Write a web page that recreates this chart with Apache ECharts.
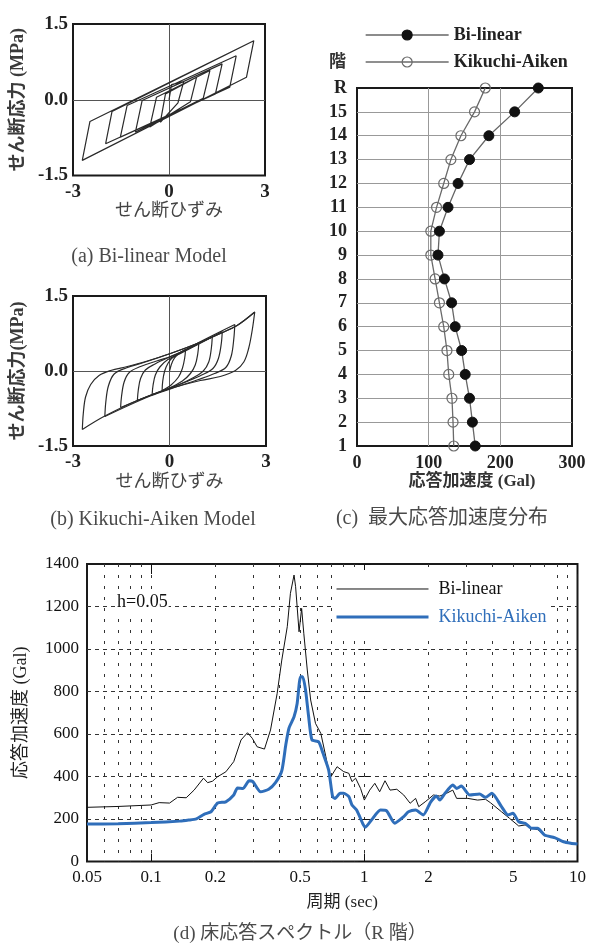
<!DOCTYPE html>
<html><head><meta charset="utf-8">
<script src="https://cdn.jsdelivr.net/npm/echarts@6/dist/echarts.min.js"></script>
<style>html,body{margin:0;padding:0;background:#fff}#c{width:589px;height:949px}</style>
</head><body><div id="c"></div>
<script>
const SERIF = "'Liberation Serif','Times New Roman','Noto Sans CJK JP',serif";

// ---------- (a) Bi-linear hysteresis: strain / stress vertices ----------
const blStrain = [0, 0.08, 0.46, 0.28, -0.27, -0.11, 0.86, 0.67, -0.60, -0.39, 1.28, 1.07, -1.05, -0.84, 1.66, 1.45, -1.52, -1.31, 2.10, 1.90, -1.98, -1.78, 2.65, 2.42, -2.71, -2.47, 2.65];
const blStress = [0, 0.30, 0.36, -0.06, -0.445, 0.115, 0.445, -0.04, -0.54, 0.05, 0.58, 0.03, -0.64, -0.016, 0.71, 0.115, -0.74, -0.115, 0.87, 0.25, -0.87, -0.23, 1.17, 0.445, -1.20, -0.43, 1.17];

// ---------- (b) Kikuchi-Aiken hysteresis branches [strain, stress] ----------
const kaStart = [[0,0],[0.1,0.2],[0.25,0.33],[0.50,0.43]];
const kaUnload = [
  [[2.65,1.18],[2.57,0.81],[2.46,0.45],[2.31,0.18],[2.05,0.01],[1.58,-0.11],[0.96,-0.19],[0.03,-0.35],[-1.0,-0.59],[-2.04,-0.91],[-2.71,-1.17]],
  [[2.03,0.93],[2.0,0.65],[1.92,0.3],[1.75,0.07],[1.4,-0.05],[0.9,-0.17],[0.3,-0.3],[-0.6,-0.5],[-2.01,-0.91]],
  [[1.64,0.79],[1.61,0.55],[1.52,0.25],[1.35,0.05],[1.0,-0.08],[0.5,-0.22],[0.0,-0.35],[-0.8,-0.54],[-1.52,-0.73]],
  [[1.33,0.68],[1.30,0.45],[1.22,0.18],[1.05,0.0],[0.75,-0.13],[0.3,-0.27],[-0.3,-0.41],[-1.0,-0.59]],
  [[0.91,0.55],[0.88,0.35],[0.80,0.12],[0.65,-0.05],[0.40,-0.2],[0.0,-0.34],[-0.54,-0.47]],
  [[0.50,0.43],[0.47,0.25],[0.40,0.05],[0.28,-0.12],[0.05,-0.28],[-0.23,-0.39]]
];
const kaReload = [
  [[-2.71,-1.17],[-2.68,-0.85],[-2.61,-0.52],[-2.45,-0.27],[-2.19,-0.09],[-1.83,0.01],[-1.31,0.09],[-0.69,0.2],[0.03,0.35],[0.86,0.55],[1.58,0.75],[2.10,0.91],[2.65,1.18]],
  [[-2.01,-0.91],[-1.98,-0.62],[-1.9,-0.3],[-1.72,-0.06],[-1.35,0.06],[-0.8,0.17],[0.03,0.35],[0.86,0.55],[1.58,0.75],[2.10,0.91],[2.65,1.18]],
  [[-1.52,-0.73],[-1.49,-0.5],[-1.41,-0.22],[-1.25,-0.03],[-0.9,0.09],[-0.4,0.2],[0.2,0.33],[1.0,0.6],[2.03,0.93]],
  [[-1.0,-0.59],[-0.97,-0.38],[-0.9,-0.15],[-0.75,0.02],[-0.45,0.14],[0.0,0.28],[0.6,0.45],[1.64,0.79]],
  [[-0.54,-0.47],[-0.51,-0.28],[-0.44,-0.08],[-0.3,0.08],[-0.05,0.23],[0.4,0.37],[1.33,0.68]],
  [[-0.23,-0.39],[-0.21,-0.2],[-0.15,0.0],[-0.05,0.15],[0.1,0.27],[0.91,0.55]]
];

// ---------- (c) max response acceleration by floor ----------
const floors = [1,2,3,4,5,6,7,8,9,10,11,12,13,14,15,16]; // 16 = R
const floorLabels = ['1','2','3','4','5','6','7','8','9','10','11','12','13','14','15','R'];
const maxAccBL = [165,161,157,151,146,137,132,122,113,115,127,141,157,184,220,253];
const maxAccKA = [135,134,132.5,128,125.5,121,115,109,103,103,111,121,131,145,164,179];
const accTicks = [0,100,200,300];

// ---------- (d) floor response spectrum (R floor) ----------
const periodBL = [0.05,0.07,0.1,0.109,0.122,0.133,0.146,0.159,0.176,0.184,0.194,0.205,0.224,0.244,0.264,0.283,0.298,0.314,0.34,0.363,0.39,0.41,0.435,0.45,0.468,0.476,0.494,0.508,0.52,0.54,0.56,0.59,0.625,0.66,0.69,0.745,0.80,0.846,0.875,0.91,0.96,1.0,1.06,1.12,1.18,1.25,1.32,1.42,1.53,1.64,1.74,1.80,1.93,2.11,2.26,2.43,2.6,2.71,3.06,3.4,3.7,3.9,4.4,4.8,5.3,5.68,6.1,6.5,7.0,7.8,8.6,9.3,10];
const accBL = [255,259,266,277,275,302,300,336,392,371,378,399,422,470,572,606,580,540,529,619,791,948,1105,1262,1348,1293,1081,1191,1074,901,760,650,603,493,392,446,423,415,376,392,344,289,336,368,328,380,336,340,313,274,297,258,281,313,308,321,336,297,297,289,293,277,234,203,167,172,156,150,125,110,92,86,82];
const periodKA = [0.05,0.07,0.1,0.136,0.15,0.163,0.177,0.191,0.205,0.224,0.244,0.254,0.27,0.288,0.30,0.326,0.356,0.383,0.41,0.428,0.443,0.468,0.484,0.502,0.514,0.53,0.548,0.568,0.61,0.64,0.68,0.71,0.73,0.77,0.80,0.846,0.875,0.92,0.99,1.01,1.08,1.19,1.27,1.39,1.53,1.61,1.74,1.89,2.05,2.18,2.26,2.39,2.6,2.71,2.85,3.12,3.47,3.7,3.97,4.4,4.72,4.98,5.3,5.68,6.1,6.5,7.0,7.8,8.6,9.3,10];
const accKA = [176,178,183,190,195,201,222,234,275,281,313,346,344,380,376,328,340,371,427,548,627,681,744,870,870,807,681,572,564,509,431,305,297,321,321,305,266,242,172,161,195,242,239,180,211,234,242,219,281,308,289,321,360,344,355,313,318,302,321,258,219,227,187,180,156,156,125,112,93,86,82];
const periodTickLabels = [0.05,0.1,0.2,0.5,1,2,5,10];
const periodMajor = [0.1,1,10];
const periodMinor = [0.06,0.07,0.08,0.09,0.1,0.2,0.3,0.4,0.5,0.6,0.7,0.8,0.9,1,2,3,4,5,6,7,8,9];
const spectrumTicks = [0,200,400,600,800,1000,1200,1400];

// ---------- build option ----------
const lg = Math.log10;
const BLUE = '#2f6eba';
const hystLine = {color:'#2a2a2a', width:1.2};

const frameGrid = (g) => Object.assign({show:true, borderColor:'#1a1a1a', borderWidth:2, backgroundColor:'transparent', containLabel:false}, g);

const hystX = (gi) => ({
  gridIndex: gi, type:'value', min:-3, max:3, interval:3,
  axisLine:{show:false}, axisTick:{show:false},
  axisLabel:{fontFamily:SERIF, fontSize:19, fontWeight:'bold', color:'#222', margin:7},
  splitLine:{show:true, showMinLine:false, showMaxLine:false, lineStyle:{color:'#555', width:1}},
  name:'せん断ひずみ', nameLocation:'middle', nameGap:27,
  nameTextStyle:{fontFamily:SERIF, fontSize:18, color:'#444'}
});
const hystY = (gi, nm) => ({
  gridIndex: gi, type:'value', min:-1.5, max:1.5, interval:1.5,
  axisLine:{show:false}, axisTick:{show:false},
  axisLabel:{fontFamily:SERIF, fontSize:19, fontWeight:'bold', color:'#222', margin:5, formatter:v=>v.toFixed(1)},
  splitLine:{show:true, showMinLine:false, showMaxLine:false, lineStyle:{color:'#555', width:1}},
  name:nm, nameLocation:'middle', nameGap:46,
  nameTextStyle:{fontFamily:SERIF, fontSize:18, fontWeight:'bold', color:'#3a3a3a'}
});

const series = [];
series.push({
  name:'bl-hyst', type:'line', xAxisIndex:0, yAxisIndex:0, symbol:'none', silent:true,
  lineStyle:hystLine, data: blStrain.map((s,i)=>[s, blStress[i]])
});
[kaStart].concat(kaUnload, kaReload).forEach((br, i) => {
  series.push({
    name:'ka-hyst-'+i, type:'line', xAxisIndex:1, yAxisIndex:1, symbol:'none', silent:true,
    smooth:0.35, lineStyle:hystLine, data: br
  });
});
// (c)
series.push({
  name:'Bi-linear', type:'line', xAxisIndex:2, yAxisIndex:2,
  symbol:'circle', symbolSize:10,
  itemStyle:{color:'#111', borderColor:'#111', borderWidth:1},
  lineStyle:{color:'#666', width:1.3},
  data: floors.map((f,i)=>[maxAccBL[i], f]), z:4
});
series.push({
  name:'Kikuchi-Aiken', type:'line', xAxisIndex:2, yAxisIndex:2,
  symbol:'circle', symbolSize:10,
  itemStyle:{color:'rgba(255,255,255,0)', borderColor:'#6a6a6a', borderWidth:1.2},
  lineStyle:{color:'#6a6a6a', width:1.3},
  data: floors.map((f,i)=>[maxAccKA[i], f]), z:3
});
// (d)
series.push({
  name:'Bi-linear ', type:'line', xAxisIndex:3, yAxisIndex:3, symbol:'none',
  lineStyle:{color:'#111', width:1}, itemStyle:{color:'#111'},
  data: periodBL.map((t,i)=>[lg(t), accBL[i]]), z:3
});
series.push({
  name:'Kikuchi-Aiken ', type:'line', xAxisIndex:3, yAxisIndex:3, symbol:'none', smooth:0.2,
  lineStyle:{color:BLUE, width:3}, itemStyle:{color:BLUE},
  data: periodKA.map((t,i)=>[lg(t), accKA[i]]), z:4
});

const dxMin = lg(0.05), dxMax = lg(10);
const capStyle = (fs) => ({fontFamily:SERIF, fontSize:fs, fontWeight:'normal', color:'#4a4a4a'});

const option = {
  animation:false,
  backgroundColor:'#fff',
  title:[
    {text:'(a) Bi-linear Model', left:149, top:247, textAlign:'center', padding:0, textStyle:capStyle(20)},
    {text:'(b) Kikuchi-Aiken Model', left:153, top:510, textAlign:'center', padding:0, textStyle:capStyle(20)},
    {text:'(c)  最大応答加速度分布', left:442, top:509, textAlign:'center', padding:0, textStyle:capStyle(20)},
    {text:'(d) 床応答スペクトル（R 階）', left:300, top:925, textAlign:'center', padding:0, textStyle:capStyle(19)},
    {text:'h=0.05', left:116, top:593, padding:[0,1], backgroundColor:'#fff', textStyle:{fontFamily:SERIF, fontSize:18, fontWeight:'normal', color:'#111'}}
  ],
  legend:[
    {left:365, top:26, orient:'vertical', itemWidth:83, itemHeight:12.5, itemGap:9, padding:0,
     selectedMode:false, data:['Bi-linear','Kikuchi-Aiken'],
     itemStyle:{borderWidth:1.2}, lineStyle:{width:1.3},
     textStyle:{fontFamily:SERIF, fontSize:18, fontWeight:'bold', color:'#222'}},
    {left:333, top:570, orient:'vertical', itemWidth:92, itemHeight:14, itemGap:10, padding:[10,4,9,2],
     backgroundColor:'#fff', selectedMode:false, formatter:n=>n.trim(),
     itemStyle:{opacity:0},
     data:[{name:'Bi-linear ', lineStyle:{width:1}, textStyle:{color:'#111'}},
           {name:'Kikuchi-Aiken ', lineStyle:{width:3}, textStyle:{color:BLUE}}],
     textStyle:{fontFamily:SERIF, fontSize:18, padding:[0,0,0,5]}}
  ],
  grid:[
    frameGrid({left:73, top:24, width:192, height:151.5}),
    frameGrid({left:73, top:296, width:193, height:150}),
    frameGrid({left:357, top:88, width:215, height:358}),
    frameGrid({left:87, top:564, width:493, height:297.5})
  ],
  xAxis:[
    hystX(0),
    hystX(1),
    {gridIndex:2, type:'value', min:accTicks[0], max:accTicks[accTicks.length-1], interval:100,
     axisLine:{show:false}, axisTick:{show:false},
     axisLabel:{fontFamily:SERIF, fontSize:18, fontWeight:'bold', color:'#222', margin:8},
     splitLine:{show:true, showMinLine:false, showMaxLine:false, lineStyle:{color:'#999', width:1}},
     name:'応答加速度 (Gal)', nameLocation:'middle', nameGap:22,
     nameTextStyle:{fontFamily:SERIF, fontSize:17, fontWeight:'bold', color:'#333', padding:[0,0,0,15]}},
    {gridIndex:3, type:'value', min:dxMin, max:dxMax,
     axisLine:{show:false},
     axisTick:{show:true, inside:true, length:8, customValues:periodMajor.map(lg), lineStyle:{color:'#111'}},
     axisLabel:{fontFamily:SERIF, fontSize:17, color:'#111', margin:8, customValues:periodTickLabels.map(lg),
       formatter:v=>String(parseFloat(Math.pow(10,v).toPrecision(2)))},
     splitLine:{show:false},
     name:'周期 (sec)', nameLocation:'middle', nameGap:33,
     nameTextStyle:{fontFamily:SERIF, fontSize:17, color:'#222', padding:[0,0,0,20]}},
    {gridIndex:3, type:'value', min:dxMin, max:dxMax, position:'bottom',
     axisLine:{show:false}, axisLabel:{show:false},
     axisTick:{show:false, customValues:periodMinor.map(lg)},
     splitLine:{show:true, lineStyle:{color:'#333', width:1, type:[3,8]}}},
    {gridIndex:3, type:'value', min:dxMin, max:dxMax, position:'top',
     axisLine:{show:false}, axisLabel:{show:false},
     axisTick:{show:true, inside:true, length:10, customValues:periodMajor.map(lg), lineStyle:{color:'#111'}},
     splitLine:{show:false}}
  ],
  yAxis:[
    hystY(0, 'せん断応力 (MPa)'),
    hystY(1, 'せん断応力(MPa)'),
    {gridIndex:2, type:'value', min:1, max:16, interval:1,
     axisLine:{show:false}, axisTick:{show:false},
     axisLabel:{fontFamily:SERIF, fontSize:18, fontWeight:'bold', color:'#222', margin:10,
       formatter:v=>floorLabels[floors.indexOf(v)]},
     splitLine:{show:true, showMinLine:false, showMaxLine:false, lineStyle:{color:'#999', width:1}},
     name:'階', nameLocation:'end', nameGap:17,
     nameTextStyle:{fontFamily:SERIF, fontSize:17, fontWeight:'bold', color:'#333', align:'right', padding:[0,11,0,0]}},
    {gridIndex:3, type:'value', min:spectrumTicks[0], max:spectrumTicks[spectrumTicks.length-1], interval:200,
     axisLine:{show:false},
     axisTick:{show:true, inside:true, length:6, lineStyle:{color:'#111'}},
     axisLabel:{fontFamily:SERIF, fontSize:17, color:'#111', margin:8, formatter:v=>String(v)},
     splitLine:{show:true, showMinLine:false, showMaxLine:false, lineStyle:{color:'#333', width:1, type:[4,4]}},
     name:'応答加速度 (Gal)', nameLocation:'middle', nameGap:57,
     nameTextStyle:{fontFamily:SERIF, fontSize:18, color:'#222'}},
    {gridIndex:3, type:'value', min:spectrumTicks[0], max:spectrumTicks[spectrumTicks.length-1], interval:200, position:'right',
     axisLine:{show:false}, axisLabel:{show:false},
     axisTick:{show:true, inside:true, length:6, lineStyle:{color:'#111'}},
     splitLine:{show:false}}
  ],
  series: series
};

const chart = echarts.init(document.getElementById('c'), null, {renderer:'canvas', width:589, height:949});
chart.setOption(option);
</script>
</body></html>
